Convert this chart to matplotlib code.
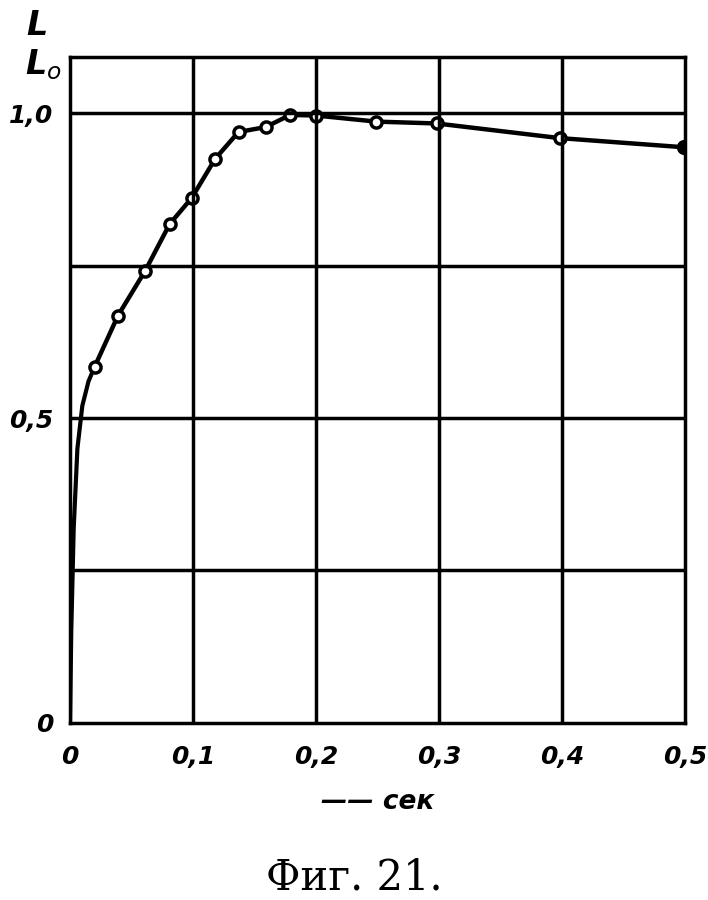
import numpy as np
import matplotlib.pyplot as plt

# measured points (open circles), last one is filled
t_pts = [0.020, 0.039, 0.061, 0.081, 0.099, 0.118, 0.137, 0.159, 0.179, 0.200,
         0.249, 0.298, 0.398]
l_pts = [0.584, 0.668, 0.741, 0.818, 0.861, 0.925, 0.969, 0.977, 0.997, 0.996,
         0.986, 0.983, 0.959]
t_end = [0.499]
l_end = [0.944]
# steep start of the curve near the origin
t_start = [0.0, 0.001, 0.003, 0.006, 0.010, 0.015, 0.020]
l_start = [0.0, 0.15, 0.32, 0.45, 0.52, 0.56, 0.584]

xticks = [0, 0.1, 0.2, 0.3, 0.4, 0.5]
xlabels = ['0', '0,1', '0,2', '0,3', '0,4', '0,5']
yticks = [0, 0.5, 1.0]
ylabels = ['0', '0,5', '1,0']

fig = plt.figure(figsize=(7.08, 9), dpi=100)
ax = fig.add_axes([0.0989, 0.1967, 0.8686, 0.74])

ax.plot(t_start, l_start, color='black', lw=3)
ax.plot(t_pts + t_end, l_pts + l_end, color='black', lw=3.2)
ax.plot(t_pts, l_pts, 'o', ms=8, mfc='white', mec='black', mew=2.5)
ax.plot(t_end, l_end, 'o', ms=10, color='black')

ax.set_xlim(0, 0.5)
ax.set_ylim(0, 1.092)
for x in xticks[1:-1]:
    ax.axvline(x, color='black', lw=2.5)
for y in [0.25, 0.5, 0.75, 1.0]:
    ax.axhline(y, color='black', lw=2.5)
for s in ax.spines.values():
    s.set_linewidth(2.5)

ax.set_xticks(xticks)
ax.set_xticklabels(xlabels)
ax.set_yticks(yticks)
ax.set_yticklabels(ylabels)
ax.tick_params(axis='x', length=0, pad=16)
ax.tick_params(axis='y', length=0, pad=12)
for lab in ax.get_xticklabels() + ax.get_yticklabels():
    lab.set_fontsize(18)
    lab.set_fontweight('bold')
    lab.set_fontstyle('italic')

ax.set_xlabel('—— сек', fontsize=19, fontweight='bold', fontstyle='italic', labelpad=14)

fig.text(0.052, 0.972, 'L', fontsize=24, fontweight='bold', fontstyle='italic',
         ha='center', va='center')
fig.text(0.062, 0.928, 'L$_o$', fontsize=24, fontweight='bold', fontstyle='italic',
         ha='center', va='center')

fig.text(0.5, 0.012, 'Фиг. 21.', fontsize=30, family='DejaVu Serif', ha='center')

fig.savefig('out.png', dpi=100)
